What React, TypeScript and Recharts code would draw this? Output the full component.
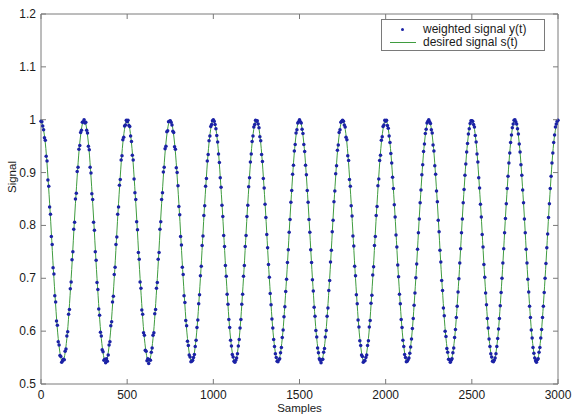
import { ComposedChart, Line, Scatter, XAxis, YAxis, ReferenceArea } from 'recharts'

// sample spacing of the two series (samples per point)
const DOT_STEP = 5
const LINE_STEP = 25

const xTicks = [0, 500, 1000, 1500, 2000, 2500, 3000]
const yTicks = [0.5, 0.6, 0.7, 0.8, 0.9, 1, 1.1, 1.2]

// weighted signal y(t), one value every 5 samples
const weighted = [
  0.997, 0.996, 0.988, 0.981, 0.966, 0.961, 0.931, 0.922, 0.886, 0.874, 0.835, 0.821, 0.779, 0.764, 0.720, 0.708, 0.667, 0.655, 0.619, 0.611, 0.580, 0.574, 0.554, 0.552, 0.541, 0.544, 0.547, 0.546, 0.562, 0.566, 0.591, 0.599, 0.632, 0.641, 0.680, 0.693, 0.735, 0.750, 0.793, 0.806, 0.850, 0.861, 0.902, 0.910, 0.944, 0.951, 0.976, 0.980, 0.995, 0.996,
  1.000, 0.994, 0.995, 0.980, 0.975, 0.950, 0.943, 0.910, 0.899, 0.860, 0.849, 0.806, 0.791, 0.750, 0.734, 0.692, 0.679, 0.642, 0.630, 0.598, 0.591, 0.565, 0.561, 0.545, 0.547, 0.540, 0.548, 0.543, 0.555, 0.574, 0.580, 0.610, 0.618, 0.655, 0.666, 0.707, 0.721, 0.764, 0.778, 0.821, 0.835, 0.876, 0.887, 0.924, 0.932, 0.962, 0.967, 0.988, 0.990, 0.999,
  0.996, 0.999, 0.989, 0.987, 0.969, 0.959, 0.933, 0.924, 0.888, 0.862, 0.849, 0.807, 0.792, 0.749, 0.736, 0.693, 0.681, 0.640, 0.632, 0.597, 0.592, 0.564, 0.562, 0.544, 0.548, 0.539, 0.546, 0.545, 0.560, 0.568, 0.592, 0.597, 0.633, 0.641, 0.681, 0.692, 0.736, 0.749, 0.793, 0.807, 0.849, 0.862, 0.901, 0.910, 0.945, 0.950, 0.977, 0.979, 0.996, 0.997,
  0.998, 0.995, 0.990, 0.978, 0.976, 0.949, 0.944, 0.909, 0.900, 0.875, 0.836, 0.820, 0.779, 0.763, 0.721, 0.707, 0.667, 0.654, 0.620, 0.610, 0.581, 0.573, 0.555, 0.551, 0.542, 0.543, 0.545, 0.550, 0.556, 0.571, 0.583, 0.607, 0.621, 0.652, 0.669, 0.705, 0.723, 0.762, 0.780, 0.819, 0.837, 0.874, 0.889, 0.922, 0.934, 0.960, 0.969, 0.987, 0.991, 0.998,
  1.000, 0.997, 0.991, 0.983, 0.970, 0.958, 0.935, 0.919, 0.890, 0.872, 0.838, 0.817, 0.781, 0.760, 0.724, 0.704, 0.670, 0.651, 0.622, 0.607, 0.583, 0.572, 0.556, 0.551, 0.543, 0.541, 0.545, 0.549, 0.557, 0.572, 0.584, 0.606, 0.622, 0.651, 0.670, 0.704, 0.724, 0.760, 0.781, 0.817, 0.838, 0.873, 0.890, 0.920, 0.935, 0.959, 0.969, 0.986, 0.991, 0.999,
  0.997, 0.998, 0.992, 0.985, 0.968, 0.960, 0.934, 0.921, 0.889, 0.871, 0.840, 0.815, 0.783, 0.758, 0.726, 0.702, 0.671, 0.650, 0.623, 0.606, 0.584, 0.571, 0.557, 0.550, 0.543, 0.542, 0.546, 0.548, 0.559, 0.569, 0.588, 0.602, 0.627, 0.646, 0.675, 0.698, 0.730, 0.754, 0.787, 0.811, 0.844, 0.866, 0.897, 0.914, 0.941, 0.953, 0.975, 0.981, 0.994, 0.996,
  1.000, 0.996, 0.994, 0.982, 0.974, 0.953, 0.940, 0.914, 0.896, 0.866, 0.844, 0.811, 0.787, 0.754, 0.730, 0.697, 0.676, 0.645, 0.628, 0.601, 0.589, 0.568, 0.559, 0.548, 0.545, 0.540, 0.546, 0.547, 0.560, 0.567, 0.589, 0.601, 0.628, 0.644, 0.677, 0.696, 0.731, 0.753, 0.788, 0.810, 0.845, 0.865, 0.898, 0.913, 0.942, 0.952, 0.976, 0.981, 0.995, 0.997,
  0.999, 0.997, 0.990, 0.986, 0.967, 0.962, 0.932, 0.923, 0.887, 0.874, 0.837, 0.818, 0.780, 0.761, 0.723, 0.705, 0.669, 0.652, 0.621, 0.608, 0.582, 0.573, 0.555, 0.552, 0.541, 0.544, 0.544, 0.550, 0.555, 0.573, 0.582, 0.608, 0.620, 0.653, 0.668, 0.706, 0.722, 0.762, 0.779, 0.819, 0.836, 0.875, 0.888, 0.923, 0.933, 0.961, 0.968, 0.987, 0.990, 0.999,
  0.997, 0.999, 0.989, 0.984, 0.969, 0.957, 0.936, 0.918, 0.891, 0.870, 0.839, 0.816, 0.782, 0.759, 0.725, 0.703, 0.670, 0.652, 0.622, 0.607, 0.583, 0.571, 0.556, 0.550, 0.542, 0.543, 0.546, 0.549, 0.558, 0.570, 0.585, 0.605, 0.624, 0.649, 0.672, 0.701, 0.727, 0.755, 0.786, 0.812, 0.843, 0.867, 0.896, 0.915, 0.940, 0.954, 0.974, 0.982, 0.994, 0.997,
  1.000, 0.996, 0.993, 0.981, 0.975, 0.952, 0.941, 0.913, 0.897, 0.865, 0.845, 0.810, 0.788, 0.753, 0.731, 0.696, 0.677, 0.644, 0.629, 0.600, 0.590, 0.567, 0.560, 0.547, 0.546, 0.541, 0.545, 0.548, 0.559, 0.568, 0.588, 0.603, 0.626, 0.647, 0.674, 0.699, 0.729, 0.756, 0.786, 0.812, 0.843, 0.868, 0.895, 0.916, 0.939, 0.955, 0.973, 0.983, 0.993, 0.998,
  0.998, 0.997, 0.991, 0.986, 0.970, 0.958, 0.935, 0.920, 0.890, 0.871, 0.840, 0.816, 0.783, 0.759, 0.726, 0.702, 0.672, 0.650, 0.624, 0.606, 0.585, 0.571, 0.557, 0.551, 0.543, 0.542, 0.545, 0.549, 0.557, 0.571, 0.586, 0.604, 0.624, 0.648, 0.673, 0.700, 0.729, 0.756, 0.786, 0.813, 0.841, 0.870, 0.893, 0.918, 0.937, 0.957, 0.971, 0.985, 0.992, 0.999,
  1.000, 0.996, 0.992, 0.983, 0.973, 0.954, 0.939, 0.915, 0.895, 0.867, 0.843, 0.812, 0.786, 0.755, 0.729, 0.698, 0.674, 0.647, 0.626, 0.602, 0.587, 0.569, 0.558, 0.549, 0.544, 0.541, 0.546, 0.548, 0.560, 0.569, 0.587, 0.603, 0.626, 0.647, 0.673, 0.700, 0.728, 0.758, 0.784, 0.815, 0.841, 0.870, 0.893, 0.918, 0.937, 0.957, 0.971, 0.986, 0.992, 0.997,
  0.999,
]

// desired signal s(t), one value every 25 samples
const desired = [
  1.000, 0.956, 0.842, 0.700, 0.586, 0.542, 0.586, 0.700, 0.842, 0.956,
  1.000, 0.956, 0.842, 0.700, 0.586, 0.542, 0.586, 0.700, 0.842, 0.956,
  1.000, 0.956, 0.842, 0.700, 0.586, 0.542, 0.586, 0.700, 0.842, 0.956,
  1.000, 0.956, 0.842, 0.700, 0.586, 0.542, 0.586, 0.700, 0.842, 0.956,
  1.000, 0.956, 0.842, 0.700, 0.586, 0.542, 0.586, 0.700, 0.842, 0.956,
  1.000, 0.956, 0.842, 0.700, 0.586, 0.542, 0.586, 0.700, 0.842, 0.956,
  1.000, 0.956, 0.842, 0.700, 0.586, 0.542, 0.586, 0.700, 0.842, 0.956,
  1.000, 0.956, 0.842, 0.700, 0.586, 0.542, 0.586, 0.700, 0.842, 0.956,
  1.000, 0.956, 0.842, 0.700, 0.586, 0.542, 0.586, 0.700, 0.842, 0.956,
  1.000, 0.956, 0.842, 0.700, 0.586, 0.542, 0.586, 0.700, 0.842, 0.956,
  1.000, 0.956, 0.842, 0.700, 0.586, 0.542, 0.586, 0.700, 0.842, 0.956,
  1.000, 0.956, 0.842, 0.700, 0.586, 0.542, 0.586, 0.700, 0.842, 0.956,
  1.000,
]

const dotData = weighted.map((y, i) => ({ n: i * DOT_STEP, y }))
const lineData = desired.map((s, i) => ({ n: i * LINE_STEP, s }))

const W = 572
const H = 417
const PLOT_W = 517
const PLOT_H = 370
const FONT = '"Liberation Sans", Arial, sans-serif'
const AXIS = '#7a7a7a'
const TEXT = '#1a1a1a'
const DOT = '#1b22a6'
const GREEN = '#3f9c3f'
const TICK = 5

const XTick = ({ x, y, payload }: any) => (
  <g>
    <line x1={x} x2={x} y1={y} y2={y - TICK} stroke={AXIS} />
    <line x1={x} x2={x} y1={y - PLOT_H} y2={y - PLOT_H + TICK} stroke={AXIS} />
    <text x={x} y={y + 15} textAnchor="middle" fontSize={12} fontFamily={FONT} fill={TEXT}>
      {payload.value}
    </text>
  </g>
)

const YTick = ({ x, y, payload }: any) => (
  <g>
    <line x1={x} x2={x + TICK} y1={y} y2={y} stroke={AXIS} />
    <line x1={x + PLOT_W} x2={x + PLOT_W - TICK} y1={y} y2={y} stroke={AXIS} />
    <text x={x - 5} y={y + 4} textAnchor="end" fontSize={12} fontFamily={FONT} fill={TEXT}>
      {payload.value}
    </text>
  </g>
)

const Dot = ({ cx, cy }: any) => <circle cx={cx} cy={cy} r={1.75} fill={DOT} />

export default function App() {
  return (
    <div style={{ position: 'absolute', left: 0, top: 0, width: W, height: H, background: '#fff' }}>
      <ComposedChart width={W} height={H} margin={{ top: 14, right: 14, bottom: 3, left: 8 }}>
        <XAxis
          dataKey="n"
          type="number"
          domain={[0, 3000]}
          ticks={xTicks}
          tick={<XTick />}
          tickSize={0}
          tickMargin={0}
          tickLine={false}
          axisLine={false}
          height={30}
          interval={0}
          label={{ value: 'Samples', position: 'insideBottom', offset: 2, fontSize: 11.5, fontFamily: FONT, fill: TEXT }}
        />
        <YAxis
          dataKey="y"
          type="number"
          domain={[0.5, 1.2]}
          ticks={yTicks}
          tick={<YTick />}
          tickSize={0}
          tickMargin={0}
          tickLine={false}
          axisLine={false}
          width={33}
          interval={0}
          label={{ value: 'Signal', angle: -90, position: 'insideLeft', offset: 0, dx: 4, dy: -6, fontSize: 11.5, fontFamily: FONT, fill: TEXT }}
        />
        <ReferenceArea x1={0} x2={3000} y1={0.5} y2={1.2} fill="none" stroke={AXIS} strokeWidth={1} />
        <Line
          data={lineData}
          dataKey="s"
          type="monotone"
          stroke={GREEN}
          strokeWidth={1}
          dot={false}
          isAnimationActive={false}
        />
        <Scatter data={dotData} dataKey="y" shape={<Dot />} isAnimationActive={false} />
      </ComposedChart>
      <div
        style={{
          position: 'absolute',
          left: 381,
          top: 19,
          width: 162,
          height: 30,
          border: `1px solid ${AXIS}`,
          background: '#fff',
          fontFamily: FONT,
          fontSize: 12,
          color: TEXT,
          lineHeight: '14px',
        }}
      >
        <div style={{ position: 'absolute', left: 19, top: 8, width: 3, height: 3, borderRadius: 2, background: DOT }} />
        <div style={{ position: 'absolute', left: 41, top: 2 }}>weighted signal y(t)</div>
        <div style={{ position: 'absolute', left: 8, top: 22, width: 26, height: 1, background: GREEN }} />
        <div style={{ position: 'absolute', left: 41, top: 15 }}>desired signal s(t)</div>
      </div>
    </div>
  )
}
